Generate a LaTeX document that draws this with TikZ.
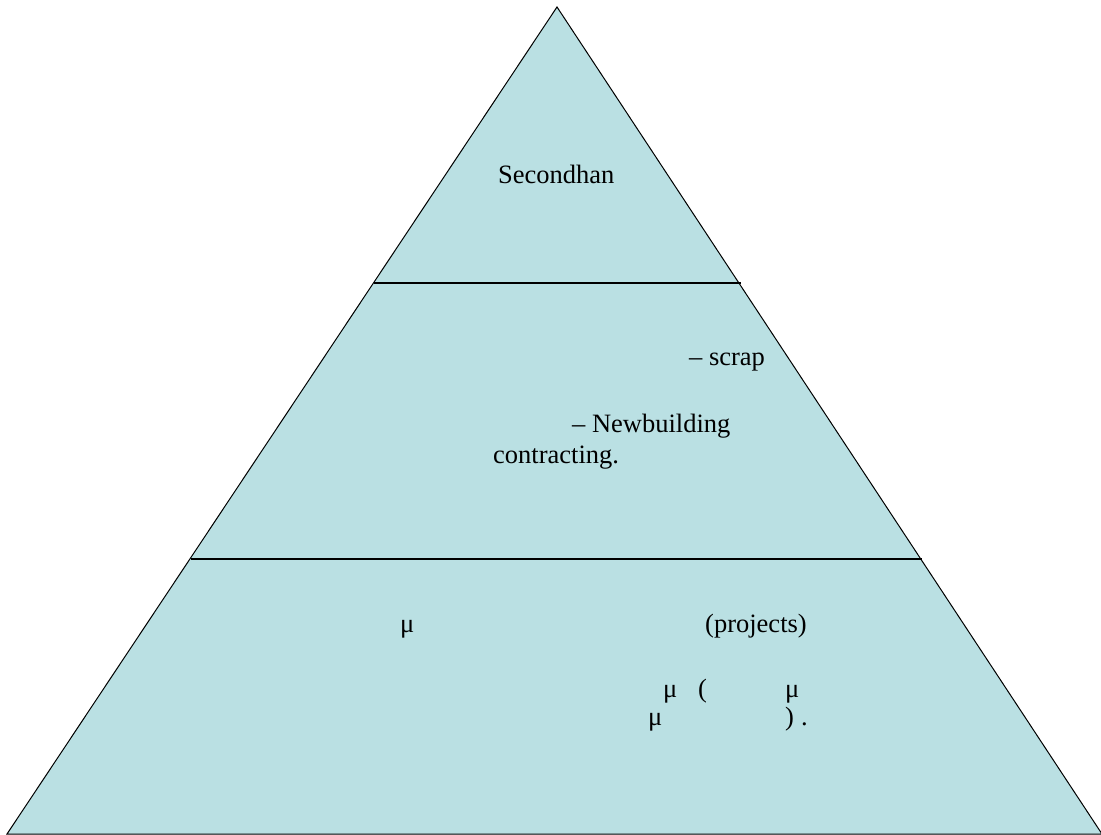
\documentclass[tikz,border=0pt]{standalone}
\usepackage{fontspec}
\setmainfont{LiberationSerif-Regular.ttf}
\definecolor{tierfill}{RGB}{186,224,227}
\begin{document}
\begin{tikzpicture}[x=1bp,y=-1bp,
  label/.style={anchor=base west,inner sep=0pt,font=\fontsize{26.5bp}{31bp}\selectfont},
  divider/.style={draw=black,line width=1.1bp}]
\useasboundingbox (0,0) rectangle (1101,835);
\clip (0,0) rectangle (1101,835);
% pyramid body
\coordinate (apex) at (557,7);
\coordinate (bl) at (7,834);
\coordinate (br) at (1102,834);
\filldraw[fill=tierfill,draw=black,line width=1bp,line join=miter] (apex) -- (bl) -- (br) -- cycle;
% tier dividers
\coordinate (d1l) at (373.5,283);
\coordinate (d1r) at (740.5,283);
\coordinate (d2l) at (190.5,559);
\coordinate (d2r) at (921.5,559);
\draw[divider] (d1l) -- (d1r);
\draw[divider] (d2l) -- (d2r);
% top tier
\node[label] (t1) at (498,183) {Secondhan};
% middle tier
\node[label] (m1) at (689,365) {– scrap};
\node[label] (m2) at (572,432) {– Newbuilding};
\node[label] (m3) at (493,463) {contracting.};
% bottom tier
\node[label] (b1) at (400,632) {μ};
\node[label] (b2) at (705,632) {(projects)};
\node[label] (b3) at (663,697) {μ};
\node[label] (b4) at (698,697) {(};
\node[label] (b5) at (785,697) {μ};
\node[label] (b6) at (648,725) {μ};
\node[label] (b7) at (785,725) {)};
\node[label] (b8) at (801,725) {.};
\end{tikzpicture}
\end{document}
